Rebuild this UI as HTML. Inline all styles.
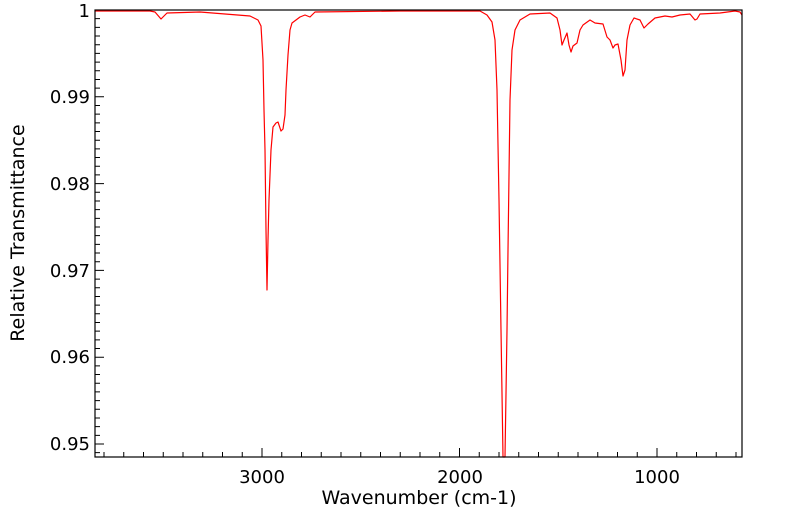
<!DOCTYPE html>
<html><head><style>body{margin:0;background:#fff}</style></head><body>
<svg width="799" height="516" xmlns="http://www.w3.org/2000/svg" font-family="DejaVu Sans, sans-serif">
<rect width="799" height="516" fill="#fff"/>
<path stroke="#000" stroke-width="1" fill="none" d="M95 10h9M95 18.68h5M95 27.36h5M95 36.04h5M95 44.72h5M95 53.4h5M95 62.08h5M95 70.76h5M95 79.44h5M95 88.12h5M95 96.8h9M95 105.48h5M95 114.16h5M95 122.84h5M95 131.52h5M95 140.2h5M95 148.88h5M95 157.56h5M95 166.24h5M95 174.92h5M95 183.6h9M95 192.28h5M95 200.96h5M95 209.64h5M95 218.32h5M95 227h5M95 235.68h5M95 244.36h5M95 253.04h5M95 261.72h5M95 270.4h9M95 279.08h5M95 287.76h5M95 296.44h5M95 305.12h5M95 313.8h5M95 322.48h5M95 331.16h5M95 339.84h5M95 348.52h5M95 357.2h9M95 365.88h5M95 374.56h5M95 383.24h5M95 391.92h5M95 400.6h5M95 409.28h5M95 417.96h5M95 426.64h5M95 435.32h5M95 444h9M95 452.68h5
M104 457v-5M123.75 457v-5M143.5 457v-5M163.25 457v-5M183 457v-5M202.75 457v-5M222.5 457v-5M242.25 457v-5M262 457v-9M281.75 457v-5M301.5 457v-5M321.25 457v-5M341 457v-5M360.75 457v-5M380.5 457v-5M400.25 457v-5M420 457v-5M439.75 457v-5M459.5 457v-9M479.25 457v-5M499 457v-5M518.75 457v-5M538.5 457v-5M558.25 457v-5M578 457v-5M597.75 457v-5M617.5 457v-5M637.25 457v-5M657 457v-9M676.75 457v-5M696.5 457v-5M716.25 457v-5M736 457v-5"/>
<polyline fill="none" stroke="#f00" stroke-width="1.2" stroke-linejoin="round" points="95,11 150,11 155,12 161,19 167,13 200,12 225,14 250,16 258,20 261,26 263,60 264,110 265,150 266,230 267,290 268,240 269,200 271,150 273,127 276,123 278,122 281,131 283,129 285,115 286,90 288,55 290,30 292,23 296,20 300,17 305,15 310,17 315,12 400,11 480,11 487,15 492,22 495,40 497,90 499,200 501,330 503,457 505,457 507,330 508,250 510,100 512,50 515,30 520,20 530,14 550,13 557,18 560,30 562,45 564,40 567,33 569,45 571,52 573,46 577,43 580,30 583,25 590,20 595,23 603,24 607,37 610,40 613,48 615,45 618,44 621,60 623,76 625,70 627,40 630,25 634,18 640,20 644,28 648,24 655,18 665,16 672,17 680,15 690,14 695,20 697,19 700,14 720,13 735,11 740,12 742,15"/>
<rect x="95" y="10" width="647" height="447" fill="none" stroke="#000" stroke-width="1.2"/>
<g font-size="18" fill="#000">
<text x="90" y="17" text-anchor="end">1</text>
<text x="90" y="103" text-anchor="end">0.99</text>
<text x="90" y="190" text-anchor="end">0.98</text>
<text x="90" y="277" text-anchor="end">0.97</text>
<text x="90" y="363" text-anchor="end">0.96</text>
<text x="90" y="450" text-anchor="end">0.95</text>
<text x="262" y="483" text-anchor="middle">3000</text>
<text x="460" y="483" text-anchor="middle">2000</text>
<text x="657" y="483" text-anchor="middle">1000</text>
<text x="419" y="504" text-anchor="middle" font-size="19">Wavenumber (cm-1)</text>
<text transform="translate(24,233) rotate(-90)" text-anchor="middle" font-size="19">Relative Transmittance</text>
</g>
</svg>
</body></html>
